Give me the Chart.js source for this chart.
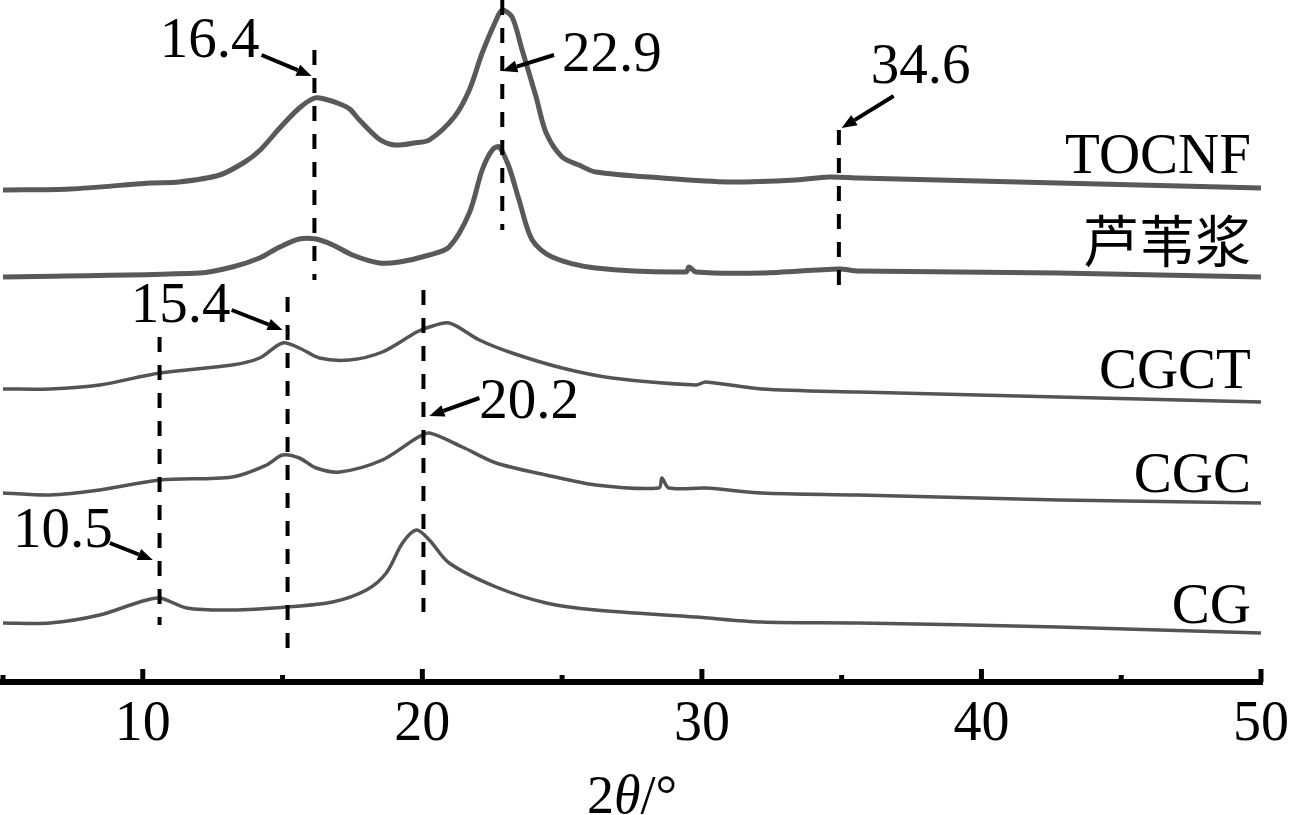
<!DOCTYPE html>
<html>
<head>
<meta charset="utf-8">
<script src="https://cdn.jsdelivr.net/npm/chart.js@4.4.1/dist/chart.umd.min.js"></script>
<style>
  html, body { margin: 0; padding: 0; background: #fff; }
  #wrap { width: 1289px; height: 815px; position: relative; }
</style>
</head>
<body>
<div id="wrap"><canvas id="xrd"></canvas></div>
<script>
// x ticks (2theta, degrees)
const majorTicks = [10, 20, 30, 40, 50];
const minorTicks = [5, 15, 25, 35, 45];

// curves, [2theta, stacked intensity (a.u.)]
const tocnf = [[5,493],[7.4,494],[10.25,500],[11.3,501],[12.75,508],[13.65,521],[14.2,533],[14.9,555],
  [15.6,575],[16.15,585],[16.5,584],[17.05,579],[17.4,574],[17.75,563],[18.45,544],[19,538],[19.7,540],
  [20.25,543],[21.14,566],[21.68,593],[22.14,630],[22.64,663],[22.86,673],[23.21,666],[23.57,633],
  [24.07,586],[24.43,550],[25,526],[25.6,518],[26.2,511],[28.57,505],[30.96,501],[33.36,503],[34.54,506],
  [35.6,505],[42.75,500],[50,495]];
const reedPulp = [[5,406],[12.04,410],[13.2,416],[14.18,425],[14.9,436],[15.6,444],[16.2,444],[16.8,438],
  [17.5,428],[18.46,420],[19.18,421],[20.25,428],[20.96,436],[21.68,470],[22.14,513],[22.5,533],[22.75,536],
  [23.1,516],[23.46,483],[23.93,443],[24.64,426],[26.2,415],[29.43,411],[29.54,416],[29.79,411],[32.14,410],
  [34.9,414],[35.6,412],[42.75,410],[50,406]];
const cgct = [[5,294],[6.68,294],[8.46,298],[10.61,310],[13.2,318],[14.18,325],[15,340],[15.6,335],
  [16.32,325],[17.39,323],[18.57,331],[19.8,351],[20.25,356],[20.96,360],[22.04,343],[23.21,330],[25,315],
  [26.79,305],[29.79,298],[30.14,301],[32.14,294],[35.6,291],[42.75,286],[50,281]];
const cgc = [[5,190],[6.68,188],[8.46,193],[10.61,203],[13.2,206],[14.43,218],[15,228],[15.6,225],[16.2,215],
  [17.04,211],[18.57,223],[19.8,245],[20.25,250],[21.43,236],[22.64,220],[24.43,208],[26.2,198],[28.46,195],
  [28.57,205],[28.82,195],[30.14,195],[32.14,190],[35.6,188],[42.75,183],[50,180]];
const cg = [[5,60],[6.68,60],[8.46,68],[9.89,81],[10.61,85],[11.57,75],[13.2,73],[15.14,76],[16.79,81],
  [18,93],[18.71,110],[19.29,140],[19.79,153],[20.25,143],[20.96,120],[22.64,96],[24.43,80],[26.2,73],
  [29.79,66],[32.14,61],[35.6,60],[42.75,56],[50,50]];

const seriesNames = ['TOCNF', '芦苇浆', 'CGCT', 'CGC', 'CG'];
const peakLabels = ['16.4', '22.9', '34.6', '15.4', '20.2', '10.5'];

// annotation geometry in data units
const peakLines = [
  { x: 16.14, y0: 403, y1: 633 },
  { x: 22.86, y0: 453, y1: 683 },
  { x: 34.9, y0: 386, y1: 553 },
  { x: 15.18, y0: 33, y1: 386 },
  { x: 20.04, y0: 71, y1: 393 },
  { x: 10.6, y0: 58, y1: 346 }
];
const peakArrows = [
  { from: [14.25, 628], to: [16.04, 607], text: [10.61, 626] },
  { from: [24.71, 628], to: [22.86, 612], text: [25.0, 612] },
  { from: [36.86, 587], to: [35.0, 555], text: [36.04, 600] },
  { from: [13.18, 373], to: [15.0, 353], text: [9.57, 361] },
  { from: [22.04, 285], to: [20.25, 267], text: [22.04, 265] },
  { from: [8.82, 140], to: [10.36, 123], text: [5.36, 136] }
];
const nameY = [510, 421, 295, 191, 60];

const SERIF = "'Liberation Serif', 'Times New Roman', serif";
const CJK = "'Noto Sans CJK SC', sans-serif";

function arrow(ctx, x0, y0, x1, y1) {
  const ang = Math.atan2(y1 - y0, x1 - x0);
  const head = 15, half = 6;
  const bx = x1 - head * Math.cos(ang), by = y1 - head * Math.sin(ang);
  ctx.beginPath();
  ctx.moveTo(x0, y0);
  ctx.lineTo(bx, by);
  ctx.stroke();
  ctx.beginPath();
  ctx.moveTo(x1, y1);
  ctx.lineTo(bx + half * Math.sin(ang), by - half * Math.cos(ang));
  ctx.lineTo(bx - half * Math.sin(ang), by + half * Math.cos(ang));
  ctx.closePath();
  ctx.fill();
}

const decorPlugin = {
  id: 'decor',
  afterDatasetsDraw(chart) {
    const { ctx, scales: { x, y } } = chart;
    ctx.save();
    ctx.strokeStyle = '#000';
    ctx.fillStyle = '#000';

    // dashed peak lines
    ctx.lineWidth = 4;
    ctx.setLineDash([15, 13]);
    peakLines.forEach(p => {
      ctx.beginPath();
      ctx.moveTo(x.getPixelForValue(p.x), y.getPixelForValue(p.y1));
      ctx.lineTo(x.getPixelForValue(p.x), y.getPixelForValue(p.y0));
      ctx.stroke();
    });
    ctx.setLineDash([]);

    // arrows + peak labels
    ctx.lineWidth = 4;
    ctx.font = '57px ' + SERIF;
    ctx.textAlign = 'left';
    ctx.textBaseline = 'alphabetic';
    peakArrows.forEach((a, i) => {
      arrow(ctx, x.getPixelForValue(a.from[0]), y.getPixelForValue(a.from[1]),
        x.getPixelForValue(a.to[0]), y.getPixelForValue(a.to[1]));
      ctx.fillText(peakLabels[i], x.getPixelForValue(a.text[0]), y.getPixelForValue(a.text[1]));
    });

    // series names
    ctx.textAlign = 'right';
    seriesNames.forEach((n, i) => {
      ctx.font = (/[\u4e00-\u9fff]/.test(n) ? '56px ' + CJK : '57px ' + SERIF);
      ctx.fillText(n, x.getPixelForValue(49.64), y.getPixelForValue(nameY[i]));
    });

    // x axis line and inward ticks
    const base = y.getPixelForValue(0) - 1;
    ctx.lineWidth = 6;
    ctx.beginPath();
    ctx.moveTo(x.getPixelForValue(5) - 3, base);
    ctx.lineTo(x.getPixelForValue(50) + 2, base);
    ctx.stroke();
    ctx.lineWidth = 5;
    majorTicks.forEach(t => {
      const px = x.getPixelForValue(t);
      ctx.beginPath();
      ctx.moveTo(px, base);
      ctx.lineTo(px, base - 13);
      ctx.stroke();
    });
    minorTicks.forEach(t => {
      const px = x.getPixelForValue(t);
      ctx.beginPath();
      ctx.moveTo(px, base);
      ctx.lineTo(px, base - 7);
      ctx.stroke();
    });

    // tick labels
    ctx.font = '56px ' + SERIF;
    ctx.textAlign = 'center';
    majorTicks.forEach(t => {
      ctx.fillText(String(t), x.getPixelForValue(t), base + 58);
    });

    // axis title 2θ/°
    const tx = 587, ty = base + 131;
    ctx.textAlign = 'left';
    ctx.font = '54px ' + SERIF;
    ctx.fillText('2', tx, ty);
    let w = ctx.measureText('2').width;
    ctx.font = 'italic 54px ' + SERIF;
    ctx.fillText('θ', tx + w, ty);
    w += ctx.measureText('θ').width;
    ctx.font = '54px ' + SERIF;
    ctx.fillText('/°', tx + w, ty);

    ctx.restore();
  }
};

const curves = [tocnf, reedPulp, cgct, cgc, cg];
const widths = [5, 5, 3.5, 3.5, 3.5];

new Chart(document.getElementById('xrd'), {
  type: 'scatter',
  data: {
    datasets: curves.map((c, i) => ({
      label: seriesNames[i],
      data: c.map(p => ({ x: p[0], y: p[1] })),
      showLine: true,
      borderColor: i < 2 ? '#595959' : '#545454',
      borderWidth: widths[i],
      pointRadius: 0,
      tension: 0.3,
      fill: false
    }))
  },
  options: {
    responsive: true,
    maintainAspectRatio: false,
    animation: false,
    layout: { padding: { left: 3, right: 28, top: 0, bottom: 132 } },
    plugins: { legend: { display: false }, tooltip: { enabled: false } },
    scales: {
      x: { type: 'linear', min: 5, max: 50, display: false },
      y: { type: 'linear', min: 0, max: 683, display: false }
    }
  },
  plugins: [decorPlugin]
});
</script>
</body>
</html>
